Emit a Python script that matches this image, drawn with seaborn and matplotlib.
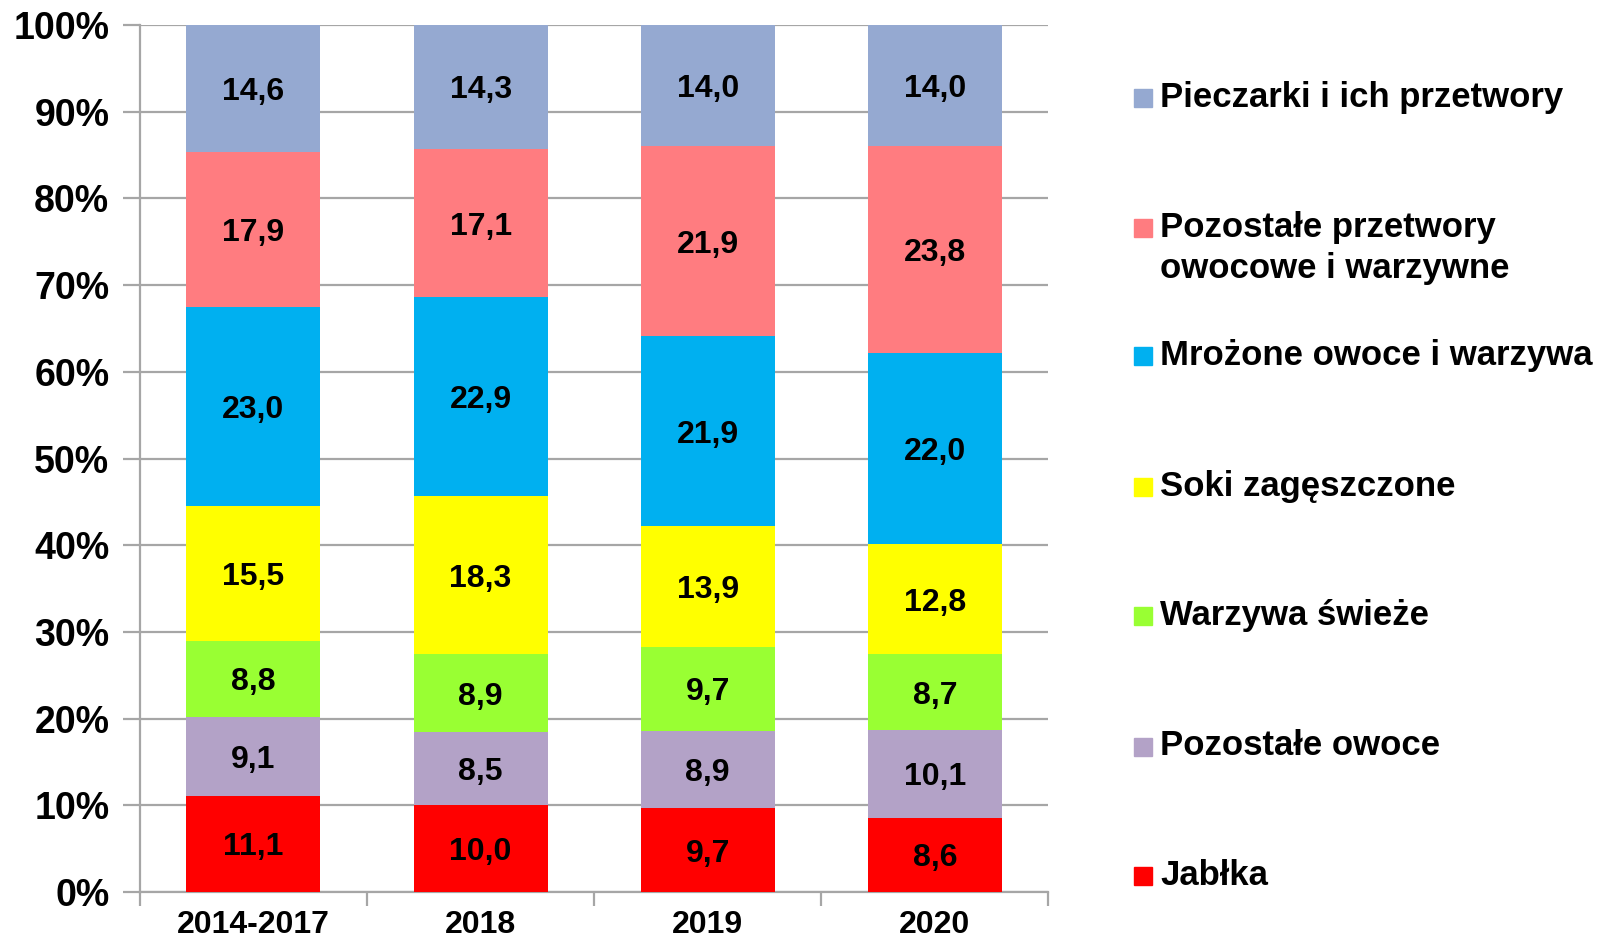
import numpy as np
import pandas as pd
import matplotlib
matplotlib.use("Agg")
import matplotlib.pyplot as plt
import seaborn as sns
from matplotlib.patches import Rectangle
from matplotlib.ticker import FixedLocator, FuncFormatter

# --- data (percent shares) ---
years = ["2014-2017", "2018", "2019", "2020"]
series = ["Pieczarki i ich przetwory",
          "Pozostałe przetwory\nowocowe i warzywne",
          "Mrożone owoce i warzywa",
          "Soki zagęszczone",
          "Warzywa świeże",
          "Pozostałe owoce",
          "Jabłka"]
pieczarki = [14.6, 14.3, 14.0, 14.0]
przetwory = [17.9, 17.1, 21.9, 23.8]
mrozone = [23.0, 22.9, 21.9, 22.0]
soki = [15.5, 18.3, 13.9, 12.8]
warzywa = [8.8, 8.9, 9.7, 8.7]
owoce = [9.1, 8.5, 8.9, 10.1]
jablka = [11.1, 10.0, 9.7, 8.6]
colors = ["#95A9D1", "#FF7C80", "#00B0F0", "#FFFF00", "#99FF33", "#B3A2C7", "#FF0000"]

values = [pieczarki, przetwory, mrozone, soki, warzywa, owoce, jablka]
df = pd.DataFrame([(y, s, v[i]) for s, v in zip(series, values) for i, y in enumerate(years)],
                  columns=["year", "group", "share"])

sns.set_style("white")
plt.rcParams["font.family"] = ["Liberation Sans", "DejaVu Sans"]
plt.rcParams["font.weight"] = "bold"
plt.rcParams["text.color"] = "black"
plt.rcParams["xtick.labelcolor"] = "black"
plt.rcParams["ytick.labelcolor"] = "black"

fig = plt.figure(figsize=(16.08, 9.43), dpi=100)
ax = fig.add_axes([0.087, 0.054, 0.565, 0.9195])

sns.histplot(data=df, x="year", hue="group", weights="share", multiple="stack",
             hue_order=series, palette=colors, shrink=0.59, linewidth=0,
             alpha=1, discrete=True, legend=False, ax=ax, zorder=3)

ax.set_xlim(-0.5, len(years) - 0.5)
ax.set_ylim(0, 100)
ax.set_xlabel("")
ax.set_ylabel("")

# labels in the middle of each segment (stack from bottom)
bottom = np.zeros(len(years))
for vals in values[::-1]:
    for i, v in enumerate(vals):
        ax.text(i, bottom[i] + v / 2, f"{v:.1f}".replace(".", ","), ha="center",
                va="center_baseline", fontsize=23, fontweight="bold", color="black", zorder=5)
    bottom += np.array(vals)

# axes styling
ax.yaxis.set_major_locator(FixedLocator(np.arange(0, 101, 10)))
ax.yaxis.set_major_formatter(FuncFormatter(lambda v, p: f"{v:.0f}%"))
ax.grid(axis="y", color="#A6A6A6", linewidth=1.6, zorder=0)
ax.set_axisbelow(True)
for s in ["top", "right"]:
    ax.spines[s].set_visible(False)
for s in ["left", "bottom"]:
    ax.spines[s].set_color("#A6A6A6")
    ax.spines[s].set_linewidth(1.6)
ax.tick_params(axis="y", length=12, width=1.6, color="#A6A6A6", labelsize=27, pad=10, left=True)
ax.set_xticks(range(len(years)))
ax.set_xticklabels(years)
ax.tick_params(axis="x", which="major", length=0, labelsize=23, pad=13)
ax.xaxis.set_minor_locator(FixedLocator(np.arange(-0.5, len(years), 1)))
ax.tick_params(axis="x", which="minor", length=10, width=1.6, color="#A6A6A6", bottom=True)
for lbl in ax.get_xticklabels() + ax.get_yticklabels():
    lbl.set_fontweight("bold")

# legend drawn at the right
ys = [0.896, 0.758, 0.622, 0.4836, 0.3465, 0.2082, 0.0711]
for name, c, y in zip(series, colors, ys):
    fig.patches.append(Rectangle((0.7055, y - 0.0095), 0.0112, 0.019, color=c,
                                 transform=fig.transFigure, figure=fig))
    fig.text(0.7215, y + 0.0185, name, ha="left", va="top", fontsize=25,
             fontweight="bold", linespacing=1.3, color="black")

fig.savefig("out.png", dpi=100)
